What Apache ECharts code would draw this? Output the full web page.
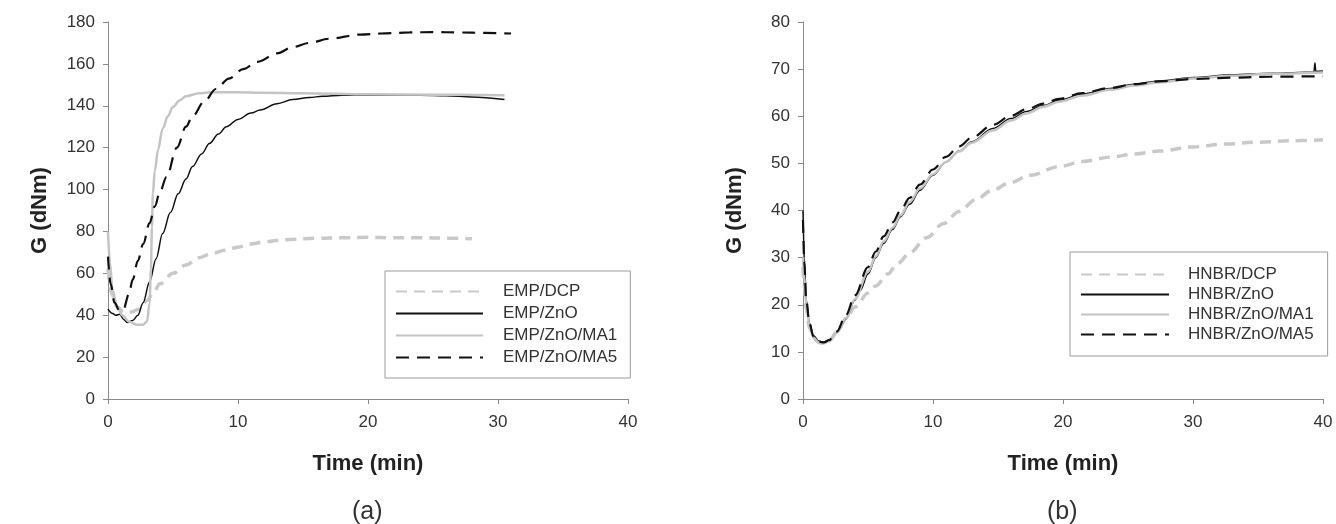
<!DOCTYPE html>
<html>
<head>
<meta charset="utf-8">
<script src="https://cdn.jsdelivr.net/npm/echarts@6/dist/echarts.min.js"></script>
<style>html,body{margin:0;padding:0;background:#fff}#c{width:1336px;height:524px}</style>
</head>
<body>
<div id="c"></div>
<script>
// ---- Data (Time in min, G in dNm) ----
var xTicks = [0, 10, 20, 30, 40];
var namesA = ['EMP/DCP', 'EMP/ZnO', 'EMP/ZnO/MA1', 'EMP/ZnO/MA5'];
var namesB = ['HNBR/DCP', 'HNBR/ZnO', 'HNBR/ZnO/MA1', 'HNBR/ZnO/MA5'];

var empDCP = [[0,62],[0.3,50],[0.7,44],[1.2,41.5],[1.8,41.5],[2.4,43],[3,47],[3.5,51],[4,55],[5,60],[6,64],[7,67.5],[8,69.5],[9,71],[10,72.5],[11,74],[12,75],[13,75.7],[14,76.2],[16,76.7],[18,77],[20,77.2],[22,77],[24,77],[26,76.8],[28,76.5]];
var empZnO = [[0,43],[0.3,41],[0.6,40],[0.9,40.5],[1.2,38],[1.5,36.5],[1.9,37.5],[2.3,40],[2.7,46],[3.2,56],[3.7,67],[4.2,79],[4.8,89],[5.4,98],[6,105],[6.5,111],[7.2,117],[7.8,122],[8.5,126.5],[9.1,130],[10,133.5],[11,136.5],[11.7,138],[13,141],[14.2,143],[15.5,144],[16.5,144.5],[18,145],[20,145.2],[22,145.2],[24,145],[26,144.8],[28,144.2],[30.5,143]];
var empMA1 = [[0,80],[0.15,65],[0.35,52],[0.7,44],[1.1,40],[1.6,37],[2.2,35.5],[2.7,35.5],[3,37],[3.2,46],[3.3,62],[3.38,82],[3.45,98],[3.6,109],[3.85,119],[4.2,129],[4.6,135],[5,139.5],[5.5,142.5],[6,144.5],[7,146],[8,146.5],[10,146.5],[12,146.2],[15,146],[20,145.5],[25,145.3],[30.5,145]];
var empMA5 = [[0,68],[0.2,55],[0.5,46],[0.9,42],[1.2,43],[1.6,50],[1.9,57],[2.3,66],[2.7,74],[3.2,84],[3.6,92],[4,99],[4.5,106],[5.3,120],[6,130],[6.5,135],[7.4,142],[8.3,148],[9.3,153],[10.4,157.5],[11.5,161],[13,165],[14.2,168],[15.5,170],[17,172],[19.4,174],[21,174.5],[23.2,175],[25,175.2],[27,175],[29,174.8],[31,174.5]];

var hnbrDCP = [[0,28],[0.1,24],[0.25,19],[0.5,15],[0.8,13],[1.2,12],[1.6,11.8],[2,12.3],[2.6,14.2],[3.3,17],[4,19.5],[5,22.5],[5.6,24],[6.5,26.5],[7.3,28.8],[8.2,31],[9.5,34.2],[10.8,37.2],[12,39.8],[13.3,42.3],[14.5,44.2],[15.9,45.9],[17.5,47.5],[19.7,49.3],[21.5,50.4],[23.6,51.3],[25.5,52],[27.4,52.6],[30,53.5],[32.5,54.1],[35,54.5],[37.5,54.8],[40,55]];
var hnbrZnO = [[0,40],[0.1,30],[0.25,21],[0.5,16],[0.8,13.5],[1.2,12.3],[1.6,12],[2,12.4],[2.6,14],[3.3,17],[4,21],[4.4,23],[5,26.5],[5.6,30],[6.2,33],[6.9,36],[7.5,38.7],[8.2,41.3],[9,44.3],[10,47.5],[11,50.3],[12,52.6],[13,54.6],[14.6,57.4],[16,59.5],[17.2,61],[18.5,62.3],[19.7,63.4],[21.5,64.7],[23.6,65.9],[25.5,66.8],[27.4,67.5],[30,68.2],[33,68.8],[36,69.1],[39.3,69.4],[39.38,71.3],[39.45,69.5],[40,69.6]];
var hnbrMA1 = [[0,30],[0.1,26],[0.25,20],[0.5,15.5],[0.8,13],[1.2,12],[1.6,11.8],[2,12.3],[2.6,14],[3.3,17.2],[4,21.2],[5,27],[5.6,30.3],[6.2,33.4],[6.9,36.4],[7.5,39],[8.2,41.8],[9,44.7],[10,47.7],[11,50.3],[12,52.5],[13,54.4],[14.6,57],[16,59.1],[17.2,60.6],[18.5,62],[19.7,63.1],[21.5,64.4],[23.6,65.6],[25.5,66.5],[27.4,67.2],[30,68],[33,68.6],[36,69],[40,69.3]];
var hnbrMA5 = [[0,38],[0.1,29],[0.25,21],[0.5,16],[0.8,13.3],[1.2,12.2],[1.6,12],[2,12.5],[2.6,14.3],[3.3,17.8],[4,22],[5,28],[5.6,31.3],[6.2,34.5],[6.9,37.5],[7.5,40],[8.2,42.7],[9,45.5],[10,48.7],[11,51.4],[12,53.6],[13,55.5],[14.6,58.2],[16,60.1],[17.2,61.5],[18.5,62.7],[19.7,63.7],[21.5,64.9],[23.6,66],[25.5,66.8],[27.4,67.4],[30,67.9],[33,68.2],[36,68.4],[40,68.5]];

// ---- Chart ----
var FONT = '"Liberation Sans", Arial, sans-serif';
var chart = echarts.init(document.getElementById('c'), null, {renderer: 'canvas'});

var styles = [
  {color: '#c9c9c9', width: 3.5, type: [11, 7]},
  {color: '#111111', width: 1.5, type: 'solid'},
  {color: '#c4c4c4', width: 2.5, type: 'solid'},
  {color: '#111111', width: 2.2, type: [13, 8]}
];

function xAx(idx) {
  return {
    type: 'value', gridIndex: idx, min: 0, max: 40, interval: 10,
    name: 'Time (min)', nameLocation: 'middle', nameGap: 54,
    nameTextStyle: {fontFamily: FONT, fontWeight: 'bold', fontSize: 22, color: '#222'},
    axisLine: {show: true, lineStyle: {color: '#8a8a8a', width: 1}},
    axisTick: {show: true, length: 5, lineStyle: {color: '#8a8a8a'}},
    axisLabel: {fontFamily: FONT, fontSize: 17, color: '#333', margin: 15,
      formatter: function (v) { return xTicks.indexOf(v) >= 0 ? String(v) : ''; }},
    splitLine: {show: false}
  };
}
function yAx(idx, max, interval) {
  return {
    type: 'value', gridIndex: idx, min: 0, max: max, interval: interval,
    name: 'G (dNm)', nameLocation: 'middle', nameGap: 57,
    nameTextStyle: {fontFamily: FONT, fontWeight: 'bold', fontSize: 22, color: '#222'},
    axisLine: {show: true, lineStyle: {color: '#8a8a8a', width: 1}},
    axisTick: {show: true, length: 5, lineStyle: {color: '#8a8a8a'}},
    axisLabel: {fontFamily: FONT, fontSize: 17, color: '#333', margin: 13},
    splitLine: {show: false}
  };
}
function ser(name, data, st, gi) {
  return {
    name: name, type: 'line', data: data, xAxisIndex: gi, yAxisIndex: gi,
    showSymbol: false, symbol: 'none', smooth: 0.35, smoothMonotone: 'x',
    lineStyle: {color: st.color, width: st.width, type: st.type},
    itemStyle: {color: st.color}, z: 2, animation: false
  };
}

var seriesA = [empDCP, empZnO, empMA1, empMA5];
var seriesB = [hnbrDCP, hnbrZnO, hnbrMA1, hnbrMA5];
var series = [];
for (var i = 0; i < 4; i++) series.push(ser(namesA[i], seriesA[i], styles[i], 0));
for (var j = 0; j < 4; j++) series.push(ser(namesB[j], seriesB[j], styles[j], 1));

var legendCommon = {
  orient: 'vertical',
  backgroundColor: '#fff', borderColor: '#9a9a9a', borderWidth: 1,
  itemHeight: 14, selectedMode: false,
  itemStyle: {opacity: 0},
  textStyle: {fontFamily: FONT, fontSize: 17, color: '#333', lineHeight: 17}
};

chart.setOption({
  animation: false,
  backgroundColor: '#fff',
  grid: [
    {left: 108, top: 22, width: 520, height: 377},
    {left: 803, top: 22, width: 520, height: 377}
  ],
  xAxis: [xAx(0), xAx(1)],
  yAxis: [yAx(0, 180, 20), yAx(1, 80, 10)],
  legend: [
    Object.assign({}, legendCommon, {
      data: namesA, left: 385, top: 271, itemGap: 5, itemWidth: 87,
      padding: [12, 13, 12, 10],
      textStyle: Object.assign({}, legendCommon.textStyle, {padding: [0, 0, 0, 15]})
    }),
    Object.assign({}, legendCommon, {
      data: namesB, left: 1070, top: 252, itemGap: 3, itemWidth: 88,
      padding: [14, 14, 13, 10],
      textStyle: Object.assign({}, legendCommon.textStyle, {padding: [0, 0, 0, 14]})
    })
  ],
  graphic: [
    {type: 'text', left: 368 - 16, top: 500, style: {text: '(a)', font: '25px ' + FONT, fill: '#333'}},
    {type: 'text', left: 1063 - 16, top: 500, style: {text: '(b)', font: '25px ' + FONT, fill: '#333'}}
  ],
  series: series
});
</script>
</body>
</html>
